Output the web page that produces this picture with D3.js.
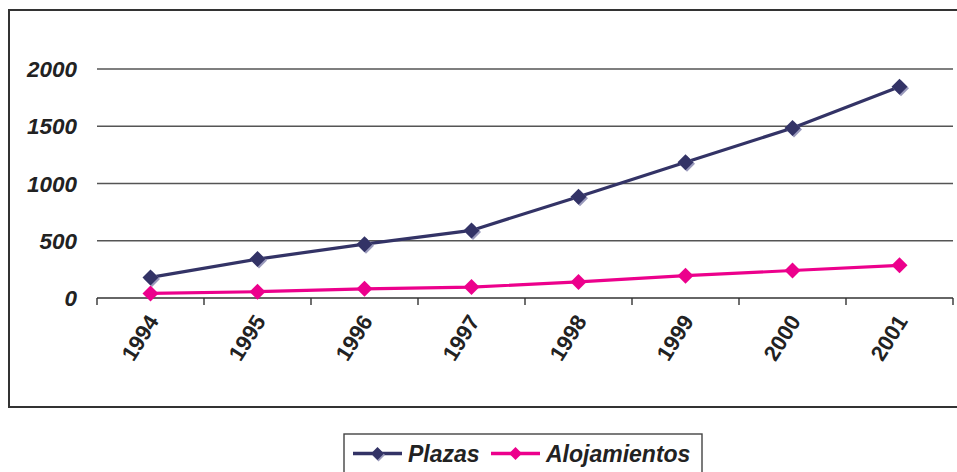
<!DOCTYPE html>
<html>
<head>
<meta charset="utf-8">
<script src="https://cdn.jsdelivr.net/npm/d3@7"></script>
<style>
  body { margin: 0; background: #fff; }
  svg text { font-family: "Liberation Sans", Arial, sans-serif; fill: #222; }
</style>
</head>
<body>
<svg id="chart" width="957" height="472"></svg>
<script>
var years = ['1994', '1995', '1996', '1997', '1998', '1999', '2000', '2001'];
var plazas = [180, 340, 470, 590, 885, 1185, 1485, 1845];
var alojamientos = [40, 55, 80, 95, 140, 195, 240, 285];
var yTicks = [0, 500, 1000, 1500, 2000];

var navy = '#333366';
var pink = '#ec008c';

var svg = d3.select('#chart');

// outer chart border (right side runs off the picture)
svg.append('rect')
  .attr('x', 9).attr('y', 10)
  .attr('width', 970).attr('height', 397)
  .attr('fill', 'none')
  .attr('stroke', '#333')
  .attr('stroke-width', 2);

var x = d3.scaleBand().domain(years).range([97, 953]);
var y = d3.scaleLinear().domain([0, 2000]).range([298, 69]);

// gridlines
svg.append('g')
  .selectAll('line')
  .data(yTicks.filter(d => d > 0))
  .join('line')
  .attr('x1', 97).attr('x2', 953)
  .attr('y1', d => y(d)).attr('y2', d => y(d))
  .attr('stroke', '#555')
  .attr('stroke-width', 1.4);

// y labels
svg.append('g')
  .selectAll('text')
  .data(yTicks)
  .join('text')
  .attr('x', 77)
  .attr('y', d => y(d) + 8)
  .attr('text-anchor', 'end')
  .style('font-size', '22.5px')
  .style('font-weight', 'bold')
  .style('font-style', 'italic')
  .text(d => d);

// x axis
var xAxis = d3.axisBottom(x).tickSize(7).tickFormat('');
var gx = svg.append('g')
  .attr('transform', 'translate(0,' + y(0) + ')')
  .call(xAxis);
gx.select('.domain').attr('stroke', '#333').attr('stroke-width', 1.6).attr('d', 'M97,0H953');
// ticks sit at band boundaries, not centres
gx.selectAll('.tick').remove();
var bounds = years.map(d => x(d)).concat([x.range()[1]]);
gx.selectAll('.bt')
  .data(bounds)
  .join('line')
  .attr('class', 'bt')
  .attr('x1', d => d).attr('x2', d => d)
  .attr('y1', 0).attr('y2', 7)
  .attr('stroke', '#333')
  .attr('stroke-width', 1.4);

svg.append('g')
  .selectAll('text')
  .data(years)
  .join('text')
  .attr('transform', d => 'translate(' + (x(d) + x.bandwidth() / 2 + 9) + ',321) rotate(-58)')
  .attr('text-anchor', 'end')
  .style('font-size', '22px')
  .style('font-weight', 'bold')
  .text(d => d);

var cx = d => x(d) + x.bandwidth() / 2;
var line = d3.line().x((d, i) => cx(years[i])).y(d => y(d));

function diamond(r) {
  return 'M0,' + (-r) + 'L' + r + ',0L0,' + r + 'L' + (-r) + ',0Z';
}

// Plazas
svg.append('path')
  .datum(plazas)
  .attr('d', line)
  .attr('fill', 'none')
  .attr('stroke', navy)
  .attr('stroke-width', 3.2);
var pm = svg.append('g').selectAll('g')
  .data(plazas)
  .join('g')
  .attr('transform', (d, i) => 'translate(' + cx(years[i]) + ',' + y(d) + ')');
pm.append('path').attr('d', diamond(8)).attr('transform', 'translate(1.5,1.5)').attr('fill', '#9999bb');
pm.append('path').attr('d', diamond(8)).attr('fill', navy);

// Alojamientos
svg.append('path')
  .datum(alojamientos)
  .attr('d', line)
  .attr('fill', 'none')
  .attr('stroke', pink)
  .attr('stroke-width', 3.2);
svg.append('g').selectAll('path')
  .data(alojamientos)
  .join('path')
  .attr('transform', (d, i) => 'translate(' + cx(years[i]) + ',' + y(d) + ')')
  .attr('d', diamond(8))
  .attr('fill', pink);

// legend
var lg = svg.append('g');
lg.append('rect')
  .attr('x', 344).attr('y', 434)
  .attr('width', 358).attr('height', 60)
  .attr('fill', '#fff')
  .attr('stroke', '#444')
  .attr('stroke-width', 1.4);

var items = [
  { name: 'Plazas', color: navy, x0: 353, shadow: true },
  { name: 'Alojamientos', color: pink, x0: 491, shadow: false }
];
items.forEach(function (it) {
  lg.append('line')
    .attr('x1', it.x0).attr('x2', it.x0 + 49)
    .attr('y1', 453.5).attr('y2', 453.5)
    .attr('stroke', it.color)
    .attr('stroke-width', 3.5);
  if (it.shadow) {
    lg.append('path').attr('d', diamond(6.5))
      .attr('transform', 'translate(' + (it.x0 + 25.5) + ',455)')
      .attr('fill', '#9999bb');
  }
  lg.append('path').attr('d', diamond(6.5))
    .attr('transform', 'translate(' + (it.x0 + 24.5) + ',453.5)')
    .attr('fill', it.color);
  lg.append('text')
    .attr('x', it.x0 + 55)
    .attr('y', 462)
    .style('font-size', '23px')
    .style('font-weight', 'bold')
    .style('font-style', 'italic')
    .text(it.name);
});
</script>
</body>
</html>
